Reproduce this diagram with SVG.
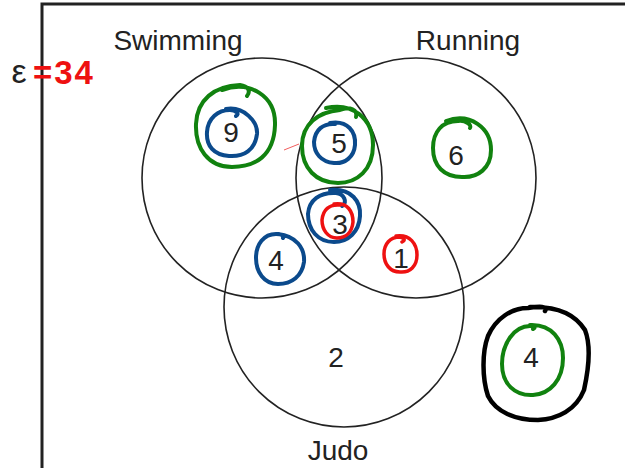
<svg xmlns="http://www.w3.org/2000/svg" width="625" height="468" viewBox="0 0 625 468">
<style>
.set{fill:none;stroke:#222;stroke-width:1.6}
.lbl{font-family:"Liberation Sans",Arial,sans-serif;font-size:28px;fill:#222;text-anchor:middle}
.num{font-family:"Liberation Sans",Arial,sans-serif;font-size:28px;fill:#222;text-anchor:middle}
.g{fill:none;stroke:#11820f;stroke-width:4;stroke-linecap:round;stroke-linejoin:round}
.b{fill:none;stroke:#0b4a8c;stroke-width:4;stroke-linecap:round;stroke-linejoin:round}
.r{fill:none;stroke:#ee1111;stroke-width:3.5;stroke-linecap:round;stroke-linejoin:round}
.k{fill:none;stroke:#000;stroke-width:4.5;stroke-linecap:round;stroke-linejoin:round}
</style>
<rect width="625" height="468" fill="#fff"/>
<path d="M42,468 L42,4 L625,4" fill="none" stroke="#222" stroke-width="3"/>
<g id="universe-label">
<text x="19" y="83" class="lbl" style="font-size:34px">ε</text>
<text x="33" y="84" style="font-family:'Liberation Sans',Arial,sans-serif;font-size:33px;font-weight:bold;fill:#ee1111;letter-spacing:2px">=34</text>
</g>
<g id="swimming">
<circle cx="262" cy="178" r="120" class="set"/>
<text x="178" y="50" class="lbl">Swimming</text>
</g>
<g id="running">
<circle cx="416" cy="178" r="120" class="set"/>
<text x="468" y="50" class="lbl">Running</text>
</g>
<g id="judo">
<circle cx="344" cy="307" r="120" class="set"/>
<text x="338" y="460" class="lbl">Judo</text>
</g>
<g id="region-s-only">
<text x="231" y="142" class="num">9</text>
<path class="g" d="M222,90 C250,80 276,96 275,125 C274,156 255,167 232,167 C208,167 195,148 196,124 C197,100 214,86 240,85 C248,86 251,91 247,96"/>
<path class="b" d="M226,109 C244,106 258,122 257,134 C255,150 244,157 229,156 C214,155 206,146 207,132 C208,118 218,110 230,110 C236,110 240,114 236,116"/>
</g>
<g id="region-sr">
<text x="339" y="153" class="num">5</text>
<path class="g" d="M326,108 C352,102 373,118 373,145 C373,170 357,183 338,183 C316,183 302,168 302,146 C302,124 318,112 340,110 C350,106 358,110 356,117"/>
<path class="b" d="M330,123 C348,120 356,132 355,145 C354,157 345,164 334,163 C321,162 314,153 314,142 C315,130 323,123 335,124"/>
<path d="M284,150 L299,144" stroke="#ee3333" stroke-width="0.8" fill="none"/>
</g>
<g id="region-r-only">
<text x="456" y="165" class="num">6</text>
<path class="g" d="M446,121 C470,112 491,128 491,150 C491,168 478,178 462,177 C444,177 433,166 433,148 C433,132 442,121 458,121 C466,120 472,125 470,128"/>
</g>
<g id="region-srj">
<text x="340" y="234" class="num">3</text>
<path class="b" d="M330,190 C352,188 361,202 360,216 C359,232 348,242 334,242 C318,242 308,230 308,214 C309,200 320,192 336,193 C344,194 348,202 342,206"/>
<path class="r" d="M334,204 C348,202 353,212 353,222 C352,232 346,238 337,238 C328,238 322,230 322,220 C323,210 329,204 340,205"/>
</g>
<g id="region-sj">
<text x="276" y="270" class="num">4</text>
<path class="b" d="M278,234 C296,236 305,248 304,262 C302,276 292,284 278,284 C264,284 256,272 256,258 C256,244 264,234 276,234 C282,234 285,236 283,238"/>
</g>
<g id="region-rj">
<text x="401" y="268" class="num">1</text>
<path class="r" d="M396,236 C410,234 417,244 417,255 C417,266 410,273 400,272 C390,272 384,264 384,254 C384,244 390,237 400,237 C404,238 406,240 402,242"/>
</g>
<g id="region-j-only">
<text x="336" y="367" class="num">2</text>
</g>
<g id="region-outside">
<text x="531" y="367" class="num">4</text>
<path class="k" d="M530,307 C556,306 575,314 585,330 C592,348 588,372 584,390 C576,410 558,419 538,420 C515,420 496,412 488,396 C482,378 482,352 488,336 C496,318 512,308 528,308 C540,306 548,306 545,311"/>
<path class="g" d="M530,325 C552,324 563,340 563,358 C563,380 550,394 533,395 C515,396 502,384 502,364 C502,344 514,326 530,326 C534,326 536,328 533,329"/>
</g>
</svg>
